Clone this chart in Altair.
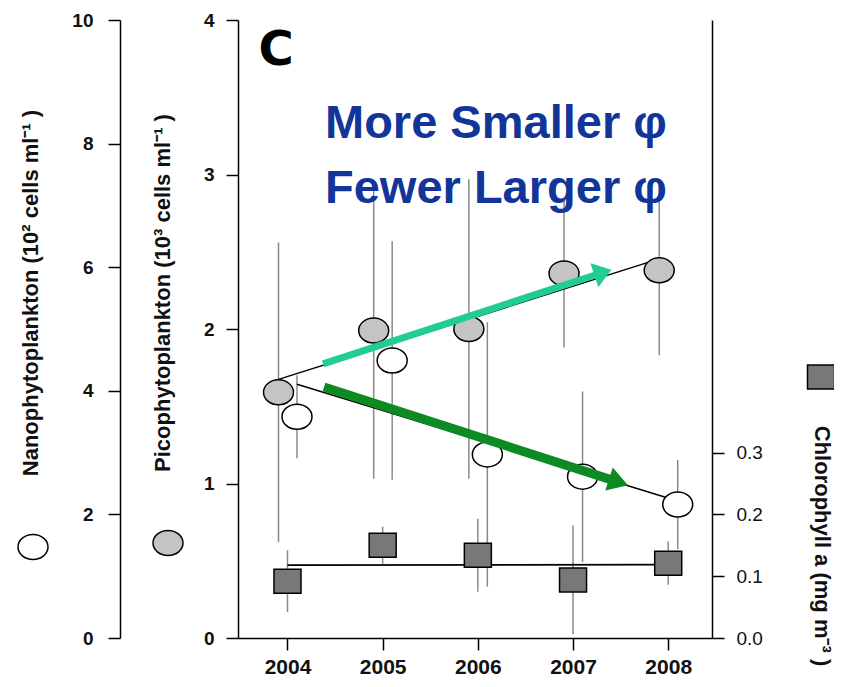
import altair as alt
import pandas as pd

# ---------------- data ----------------
years = [2004, 2005, 2006, 2007, 2008]
pico = [1.59, 1.99, 2.00, 2.36, 2.38]          # 10^3 cells/ml
pico_sd = [0.97, 0.96, 0.97, 0.48, 0.55]
nano = [3.58, 4.49, 2.97, 2.61, 2.16]          # 10^2 cells/ml
nano_sd = [0.67, 1.93, 2.14, 1.38, 0.72]
chl = [0.092, 0.150, 0.134, 0.094, 0.121]      # mg m^-3
chl_sd = [0.050, 0.030, 0.059, 0.088, 0.035]

pico_ticks = [0, 1, 2, 3, 4]
nano_ticks = [0, 2, 4, 6, 8, 10]
chl_ticks = [0.0, 0.1, 0.2, 0.3]
year_ticks = [2004, 2005, 2006, 2007, 2008]

# trend arrows, in (year, picophytoplankton-axis) units
arrow_x0 = [2004.374, 2004.384]
arrow_y0 = [1.774, 1.624]
arrow_x1 = [2007.314, 2007.478]
arrow_y1 = [2.366, 1.009]

panel_label = "C"
headline = "More Smaller \u03c6\nFewer Larger \u03c6"
nano_title = "Nanophytoplankton (10\u00b2  cells ml\u207b\u00b9 )"
pico_title = "Picophytoplankton (10\u00b3  cells ml\u207b\u00b9 )"
chl_title = "Chlorophyll a (mg m\u207b\u00b3 )"

# ---------------- styling ----------------
FONT = "Liberation Sans"
ELLIPSE = "M-1,0A1,0.833,0,1,1,1,0A1,0.833,0,1,1,-1,0Z"
SQUARE = "M-1,-0.89H1V0.89H-1Z"
HEAD_A = "M1,0L-1,-1.4L-1,1.4Z"
HEAD_B = "M1,0L-1,-1.2L-1,1.2Z"
CYAN = "#22cc96"
GREEN = "#0e8a22"
ERR = "#8a8a8a"
PICO_OFF = -9
NANO_OFF = 9.5

df = pd.DataFrame({
    "year": years, "pico": pico, "pico_sd": pico_sd,
    "nano": nano, "nano_sd": nano_sd, "chl": chl, "chl_sd": chl_sd,
})
base = alt.Chart(df).transform_calculate(
    pico_lo="datum.pico - datum.pico_sd", pico_hi="datum.pico + datum.pico_sd",
    nano_lo="datum.nano - datum.nano_sd", nano_hi="datum.nano + datum.nano_sd",
    chl_lo="datum.chl - datum.chl_sd", chl_hi="datum.chl + datum.chl_sd",
)

x_scale = alt.Scale(domain=[2003.48, 2008.46], nice=False, zero=False)
x_axis = alt.Axis(values=year_ticks, format="d", title=None, grid=False,
                  tickSize=12, tickColor="black", tickWidth=1.5,
                  domainColor="black", domainWidth=1.5,
                  labelFont=FONT, labelFontSize=21, labelFontWeight="bold",
                  labelColor="#111111", labelPadding=6)


def xenc(field="year"):
    return alt.X(f"{field}:Q", scale=x_scale, axis=x_axis)


pico_scale = alt.Scale(domain=[0, 4], nice=False, zero=True)
nano_scale = alt.Scale(domain=[0, 10], nice=False, zero=True)
chl_scale = alt.Scale(domain=[0, 1.0], nice=False, zero=True)

common_axis = dict(title=None, grid=False, tickSize=12, tickColor="black",
                   tickWidth=1.5, domainColor="black", domainWidth=1.5,
                   labelFont=FONT, labelColor="#111111")
pico_axis = alt.Axis(orient="left", values=pico_ticks, labelFontSize=19,
                     labelFontWeight="bold", labelPadding=12, **common_axis)
nano_axis = alt.Axis(orient="left", values=nano_ticks, offset=118, labelFontSize=19,
                     labelFontWeight="bold", labelPadding=15, **common_axis)
chl_axis = alt.Axis(orient="right", values=chl_ticks, format=".1f", labelFontSize=19,
                    labelPadding=12, **common_axis)

# error bars
pico_err = base.mark_rule(color=ERR, strokeWidth=1.5, xOffset=PICO_OFF).encode(
    x=xenc(), y=alt.Y("pico_lo:Q", scale=pico_scale, axis=pico_axis), y2="pico_hi:Q")
nano_err = base.mark_rule(color=ERR, strokeWidth=1.5, xOffset=NANO_OFF).encode(
    x=xenc(), y=alt.Y("nano_lo:Q", scale=nano_scale, axis=nano_axis), y2="nano_hi:Q")
chl_err = base.mark_rule(color=ERR, strokeWidth=1.5).encode(
    x=xenc(), y=alt.Y("chl_lo:Q", scale=chl_scale, axis=chl_axis), y2="chl_hi:Q")

# trend lines
pico_fit = alt.Chart(df).transform_regression("year", "pico").mark_line(
    color="black", strokeWidth=1.5, xOffset=PICO_OFF).encode(
    x=xenc(), y=alt.Y("pico:Q", scale=pico_scale, axis=None))
nano_fit = alt.Chart(df).transform_regression("year", "nano").mark_line(
    color="black", strokeWidth=1.5, xOffset=NANO_OFF).encode(
    x=xenc(), y=alt.Y("nano:Q", scale=nano_scale, axis=None))
chl_fit = alt.Chart(df).transform_regression("year", "chl").mark_line(
    color="black", strokeWidth=1.8).encode(
    x=xenc(), y=alt.Y("chl:Q", scale=chl_scale, axis=None))

# markers
pt = dict(filled=True, opacity=1, stroke="black", strokeWidth=1.5)
pico_pts = alt.Chart(df).mark_point(shape=ELLIPSE, size=900, fill="#c4c4c4",
                                    xOffset=PICO_OFF, **pt).encode(
    x=xenc(), y=alt.Y("pico:Q", scale=pico_scale, axis=None))
nano_pts = alt.Chart(df).mark_point(shape=ELLIPSE, size=900, fill="white",
                                    xOffset=NANO_OFF, **pt).encode(
    x=xenc(), y=alt.Y("nano:Q", scale=nano_scale, axis=None))
chl_pts = alt.Chart(df).mark_point(shape=SQUARE, size=729, fill="#787878", **pt).encode(
    x=xenc(), y=alt.Y("chl:Q", scale=chl_scale, axis=None))

# arrows
arr = pd.DataFrame({"x0": arrow_x0, "y0": arrow_y0, "x1": arrow_x1, "y1": arrow_y1})
arrow_scale = alt.Scale(domain=[0, 4], nice=False, zero=True)
shaft_a = alt.Chart(arr.iloc[[0]]).mark_rule(color=CYAN, strokeWidth=7).encode(
    x=xenc("x0"), x2="x1:Q", y=alt.Y("y0:Q", scale=arrow_scale, axis=None), y2="y1:Q")
shaft_b = alt.Chart(arr.iloc[[1]]).mark_rule(color=GREEN, strokeWidth=9).encode(
    x=xenc("x0"), x2="x1:Q", y=alt.Y("y0:Q", scale=arrow_scale, axis=None), y2="y1:Q")
head_a = alt.Chart(arr.iloc[[0]]).mark_point(
    shape=HEAD_A, size=324, filled=True, opacity=1, color=CYAN, angle=341.8).encode(
    x=xenc("x1"), y=alt.Y("y1:Q", scale=arrow_scale, axis=None))
head_b = alt.Chart(arr.iloc[[1]]).mark_point(
    shape=HEAD_B, size=400, filled=True, opacity=1, color=GREEN, angle=17.9).encode(
    x=xenc("x1"), y=alt.Y("y1:Q", scale=arrow_scale, axis=None))

# annotations (pixel positions relative to plot origin)
def label(text, x, y, **kw):
    return alt.Chart(pd.DataFrame({"t": [text]})).mark_text(**kw).encode(
        x=alt.value(x), y=alt.value(y), text="t:N")

c_label = label(panel_label, 38, 31, font="DejaVu Sans", fontSize=48,
                fontWeight="bold", color="black", align="center", baseline="middle")
head_txt = label(headline, 87, 118, font=FONT, fontSize=47, fontWeight="bold",
                 color="#12359a", align="left", baseline="alphabetic",
                 lineBreak="\n", lineHeight=65)
nano_t = label(nano_title, -207, 273, font=FONT, fontSize=22, fontWeight="bold",
               color="#111111", angle=270, align="center", baseline="middle")
pico_t = label(pico_title, -75, 273, font=FONT, fontSize=22, fontWeight="bold",
               color="#111111", angle=270, align="center", baseline="middle")
chl_t = label(chl_title, 584, 526, font=FONT, fontSize=22, fontWeight="bold",
              color="#111111", angle=90, align="center", baseline="middle")

def symbol(shape, size, fill, x, y):
    return alt.Chart(pd.DataFrame({"s": [0]})).mark_point(
        shape=shape, size=size, filled=True, opacity=1, fill=fill,
        stroke="black", strokeWidth=1.5).encode(x=alt.value(x), y=alt.value(y))

sym_nano = symbol(ELLIPSE, 900, "white", -205, 527)
sym_pico = symbol(ELLIPSE, 900, "#c4c4c4", -70, 523)
sym_chl = symbol(SQUARE, 729, "#787878", 583, 357)

chart = alt.layer(
    pico_err, nano_err, chl_err,
    pico_fit, nano_fit, chl_fit,
    pico_pts, nano_pts, chl_pts,
    shaft_a, shaft_b, head_a, head_b,
    c_label, head_txt, nano_t, pico_t, chl_t,
    sym_nano, sym_pico, sym_chl,
).resolve_scale(y="independent").properties(
    width=474, height=618,
    autosize=alt.AutoSizeParams(type="none"),
    padding={"left": 230, "top": 12, "right": 122, "bottom": 41},
    background="white",
).configure_view(stroke=None)

chart.save("out.html", embed_options={"renderer": "svg", "actions": False})
